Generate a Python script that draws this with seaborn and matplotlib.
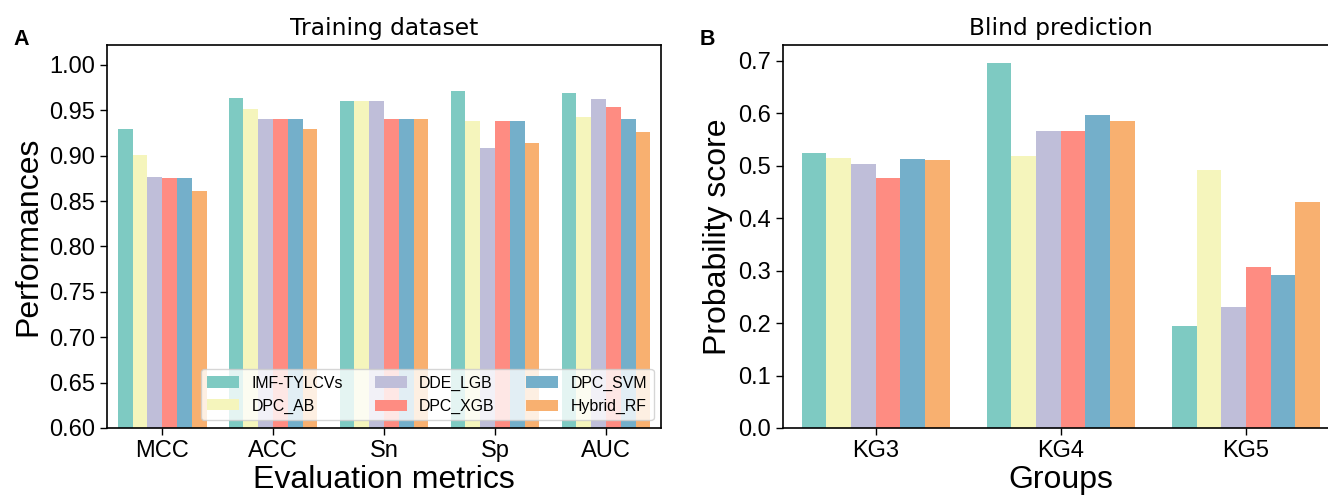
import pandas as pd
import matplotlib
matplotlib.use("Agg")
import matplotlib.pyplot as plt
import seaborn as sns

# models (hue order)
models = ["IMF-TYLCVs", "DPC_AB", "DDE_LGB", "DPC_XGB", "DPC_SVM", "Hybrid_RF"]

# panel A: training dataset
metrics = ["MCC", "ACC", "Sn", "Sp", "AUC"]
imf_tylcvs = [0.930, 0.964, 0.960, 0.971, 0.969]
dpc_ab = [0.901, 0.952, 0.960, 0.938, 0.943]
dde_lgb = [0.877, 0.940, 0.960, 0.909, 0.962]
dpc_xgb = [0.876, 0.940, 0.940, 0.938, 0.954]
dpc_svm = [0.876, 0.940, 0.940, 0.938, 0.940]
hybrid_rf = [0.861, 0.929, 0.940, 0.914, 0.926]

# panel B: blind prediction
groups = ["KG3", "KG4", "KG5"]
blind_imf = [0.524, 0.695, 0.195]
blind_ab = [0.515, 0.518, 0.492]
blind_lgb = [0.504, 0.567, 0.231]
blind_xgb = [0.476, 0.566, 0.306]
blind_svm = [0.512, 0.597, 0.291]
blind_rf = [0.511, 0.586, 0.431]


def to_long(cats, series, cat_name, val_name):
    rows = []
    for m, vals in zip(models, series):
        for c, v in zip(cats, vals):
            rows.append({cat_name: c, "Model": m, val_name: v})
    return pd.DataFrame(rows)


train_df = to_long(metrics, [imf_tylcvs, dpc_ab, dde_lgb, dpc_xgb, dpc_svm, hybrid_rf],
                   "Evaluation metrics", "Performances")
blind_df = to_long(groups, [blind_imf, blind_ab, blind_lgb, blind_xgb, blind_svm, blind_rf],
                   "Groups", "Probability score")

plt.rcParams["font.family"] = "sans-serif"
plt.rcParams["font.sans-serif"] = ["Liberation Sans", "DejaVu Sans"]
plt.rcParams["axes.linewidth"] = 1.2
plt.rcParams["xtick.major.width"] = 1.0
plt.rcParams["ytick.major.width"] = 1.0
plt.rcParams["xtick.major.size"] = 5
plt.rcParams["ytick.major.size"] = 5

# Set3-like colours as they appear in the figure
palette = ["#7ecac2", "#f5f5bc", "#bfbed9", "#fe8c82", "#74afca", "#f8b070"]

fig = plt.figure(figsize=(13.28, 4.98), dpi=100)
ax1 = fig.add_axes([0.0803, 0.1406, 0.4178, 0.769])
ax2 = fig.add_axes([0.5896, 0.1406, 0.4183, 0.769])

sns.barplot(data=train_df, x="Evaluation metrics", y="Performances", hue="Model",
            hue_order=models, palette=palette, saturation=1, ax=ax1)
ax1.set_ylim(0.6, 1.022)
ax1.set_yticks([0.60, 0.65, 0.70, 0.75, 0.80, 0.85, 0.90, 0.95, 1.00])
ax1.set_title("Training dataset", family="DejaVu Sans", fontsize=16.8, pad=7)
ax1.legend(loc="lower right", ncol=3, fontsize=11.4)

sns.barplot(data=blind_df, x="Groups", y="Probability score", hue="Model",
            hue_order=models, palette=palette, saturation=1, ax=ax2)
ax2.set_ylim(0, 0.73)
ax2.set_title("Blind prediction", family="DejaVu Sans", fontsize=16.8, pad=7)
ax2.get_legend().remove()

for ax in (ax1, ax2):
    ax.tick_params(labelsize=17)
    ax.xaxis.label.set_size(23)
    ax.yaxis.label.set_size(23)
    ax.xaxis.labelpad = 2

fig.text(0.010, 1 - 45 / 498, "A", fontsize=15.5, weight="bold")
fig.text(0.527, 1 - 45 / 498, "B", fontsize=15.5, weight="bold")

fig.savefig("out.png", dpi=100)
